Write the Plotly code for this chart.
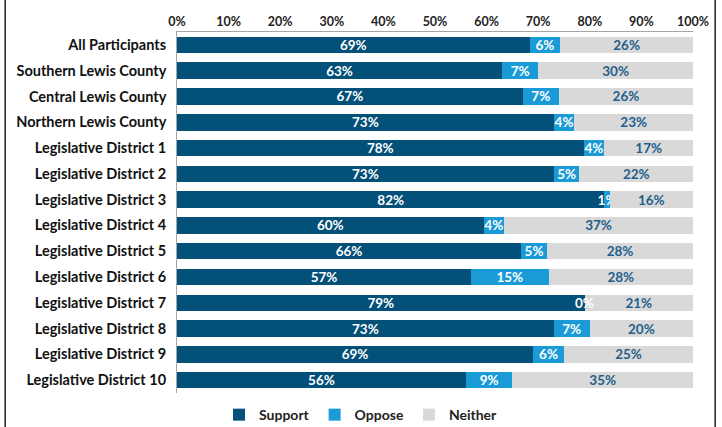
import plotly.graph_objects as go

groups = ['All Participants', 'Southern Lewis County', 'Central Lewis County',
          'Northern Lewis County', 'Legislative District 1', 'Legislative District 2',
          'Legislative District 3', 'Legislative District 4', 'Legislative District 5',
          'Legislative District 6', 'Legislative District 7', 'Legislative District 8',
          'Legislative District 9', 'Legislative District 10']

support = [69, 63, 67, 73, 78, 73, 82, 60, 66, 57, 79, 73, 69, 56]
oppose = [6, 7, 7, 4, 4, 5, 1, 4, 5, 15, 0, 7, 6, 9]
neither = [26, 30, 26, 23, 17, 22, 16, 37, 28, 28, 21, 20, 25, 35]

FONT = 'Lato'

fig = go.Figure()

series = [
    ('Support', support, '#035078', 'white'),
    ('Oppose', oppose, '#1a9bd7', 'white'),
    ('Neither', neither, '#d9d9d9', '#1f5f8b'),
]
for name, vals, col, tcol in series:
    fig.add_trace(go.Bar(
        y=groups,
        x=vals,
        name=name,
        orientation='h',
        marker=dict(color=col, line=dict(width=0)),
        text=[f'{v}%' for v in vals],
        textposition='inside',
        insidetextanchor='middle',
        textangle=0,
        constraintext='none',
        textfont=dict(family=FONT, size=13.5, color=tcol, weight='bold'),
    ))

# zero-width bars get no text from plotly, so label them by hand
for g, s, o, n in zip(groups, support, oppose, neither):
    if o == 0:
        fig.add_annotation(x=s / (s + o + n), y=g, text=f'{o}%', showarrow=False,
                           font=dict(family=FONT, size=13.5, color='white', weight='bold'))

# frame around the whole picture
fig.add_shape(type='rect', xref='paper', yref='paper',
              x0=-0.333, x1=1.043, y0=-1, y1=2,
              line=dict(color='#222222', width=1.5), layer='above')

fig.update_layout(
    barmode='stack',
    barnorm='fraction',
    bargap=0.36,
    width=722,
    height=427,
    margin=dict(l=177, r=29, t=32, b=34, autoexpand=False),
    plot_bgcolor='white',
    paper_bgcolor='white',
    uniformtext=dict(minsize=13, mode='show'),
    legend=dict(orientation='h', xref='container', x=0.5, xanchor='center',
                yref='container', y=0.028, yanchor='middle',
                font=dict(family=FONT, size=14, color='#222222', weight='bold'),
                traceorder='normal'),
    xaxis=dict(range=[0, 1], side='top', tickformat='.0%', dtick=0.1,
               showgrid=False, zeroline=False, showline=True, automargin=False,
               linecolor='#a6a6a6', linewidth=1, ticks='',
               tickfont=dict(family=FONT, size=12.5, color='#222222', weight='bold')),
    yaxis=dict(autorange='reversed', showgrid=False, showline=True, automargin=False,
               linecolor='#a6a6a6', linewidth=1, ticks='', ticksuffix='  ',
               tickfont=dict(family=FONT, size=14.5, color='#111111', weight='bold')),
)

# drop the default 8px page margin so the figure sits at the window corner
fig.write_html('out.html', config={'displayModeBar': False},
               post_script='document.body.style.margin = "0";')
